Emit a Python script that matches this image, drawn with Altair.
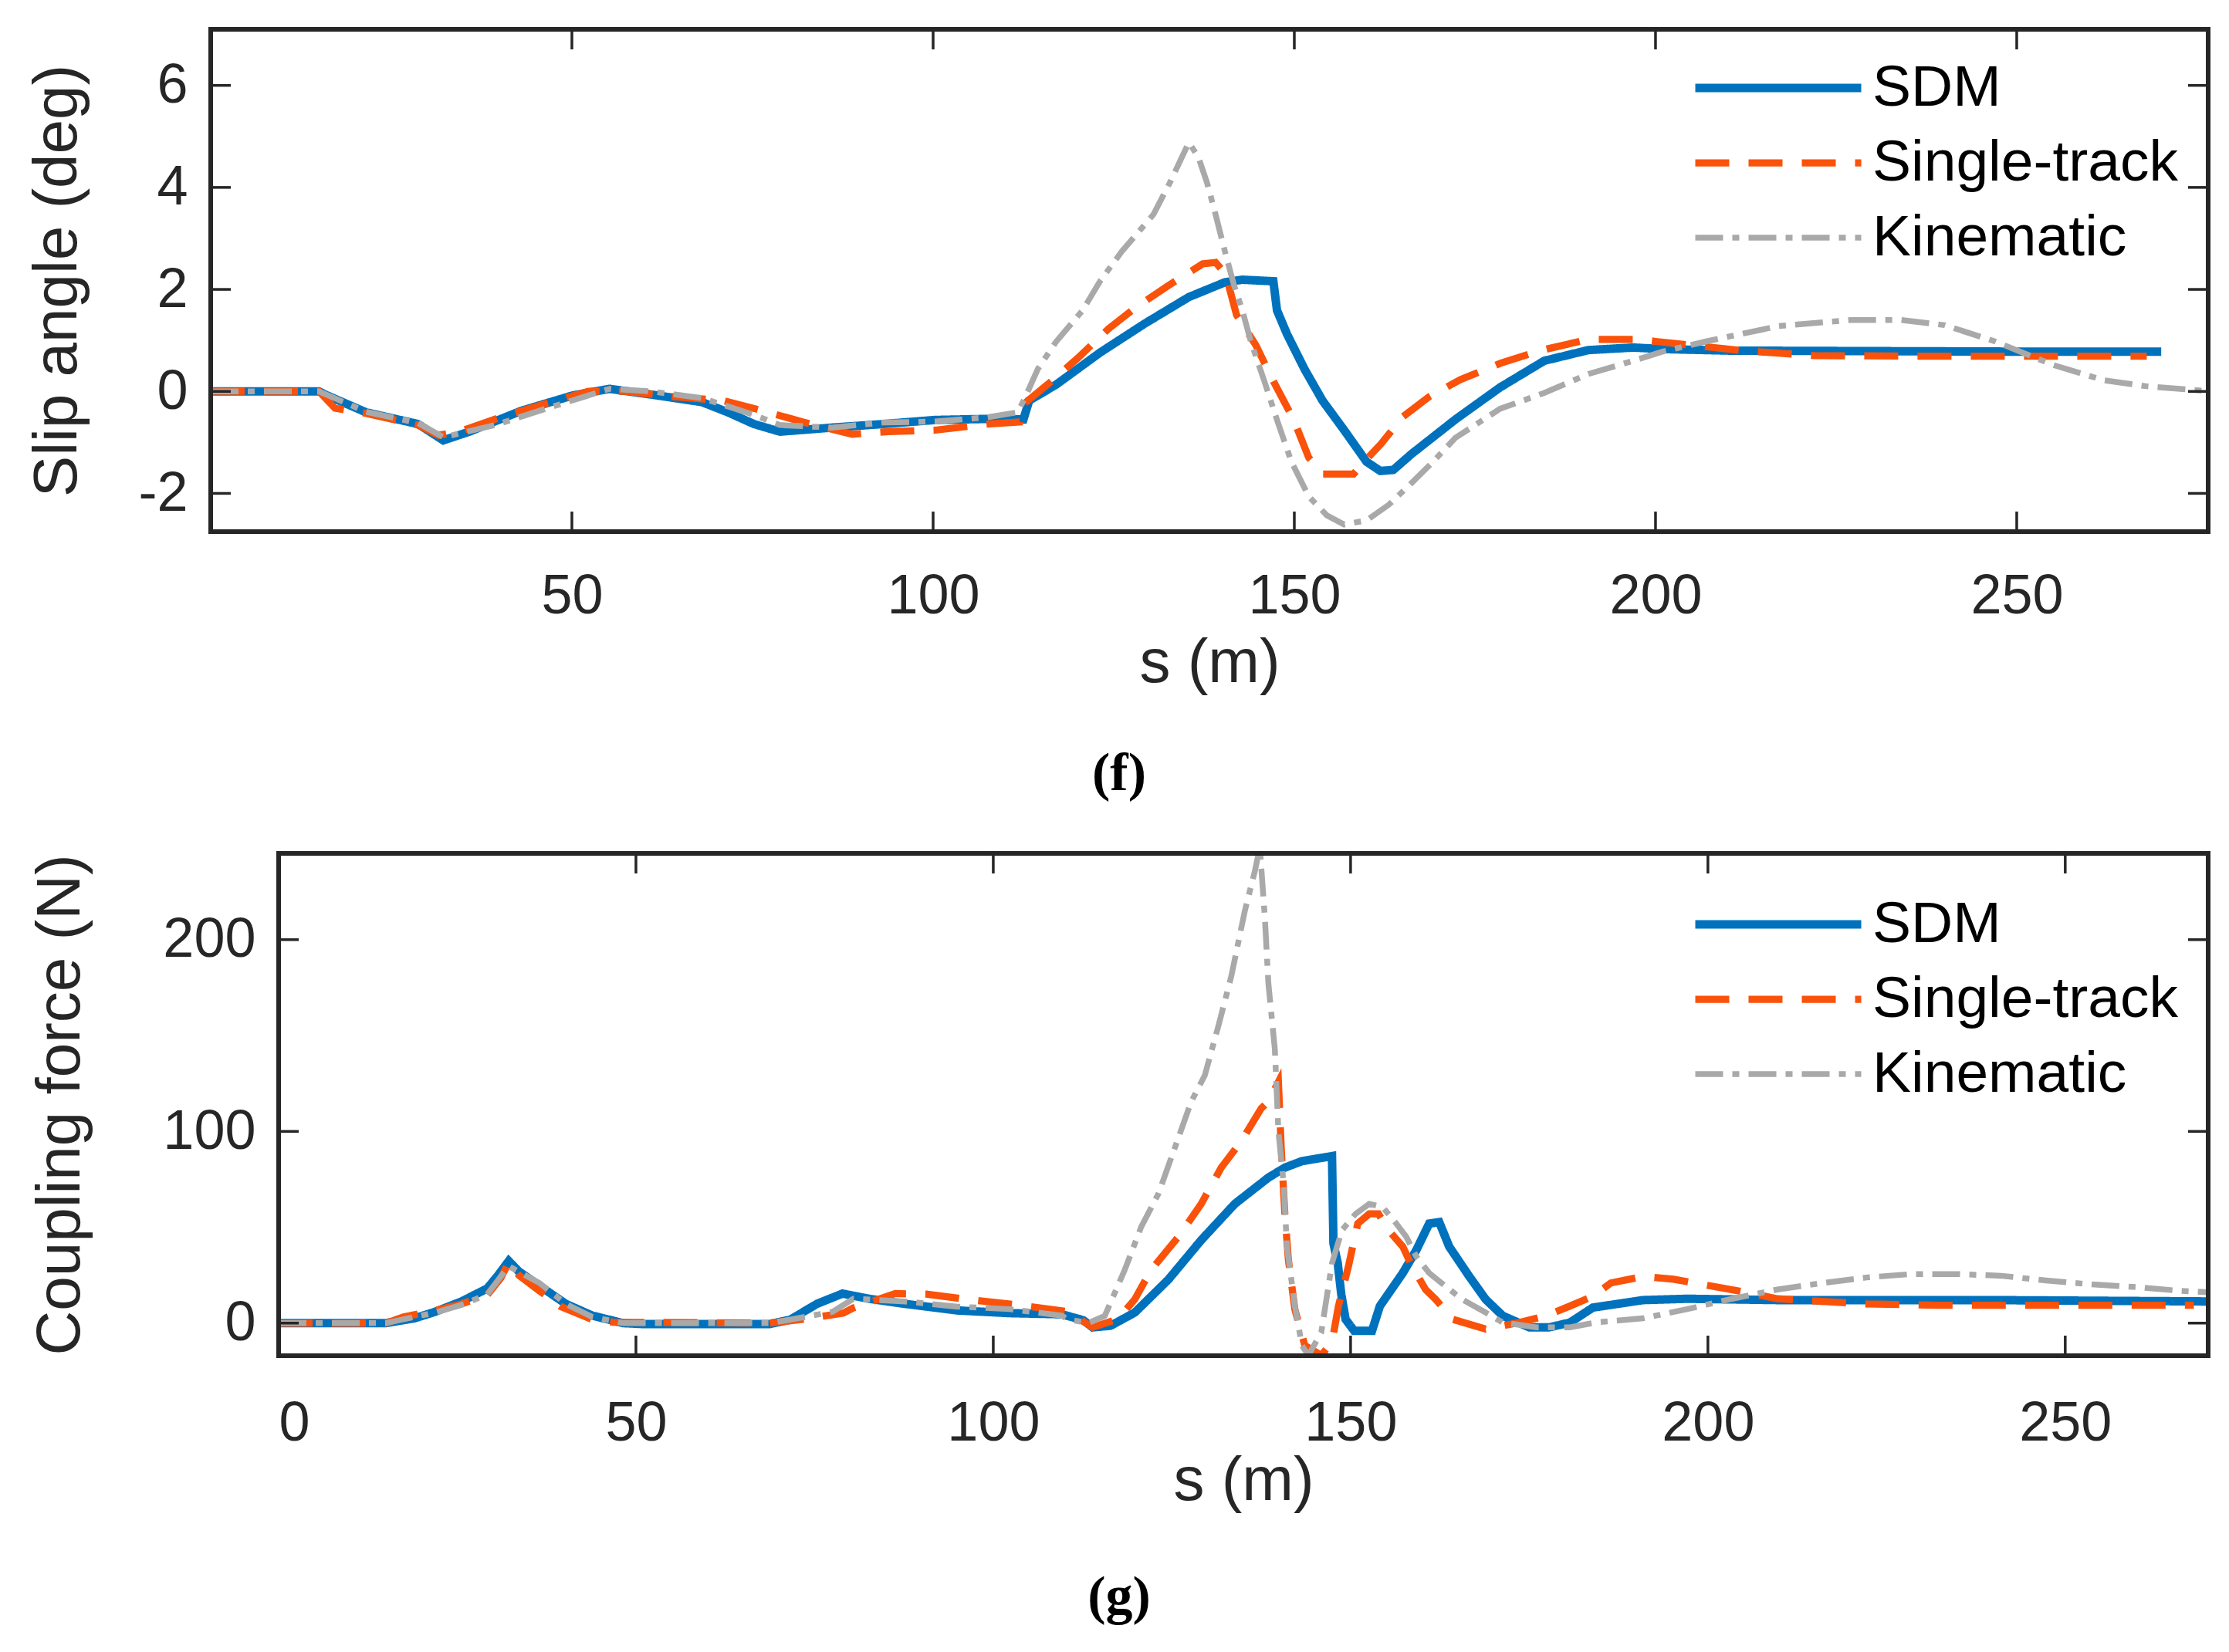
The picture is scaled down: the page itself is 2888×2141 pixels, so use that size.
import altair as alt
import pandas as pd

MODELS = ['SDM', 'Single-track', 'Kinematic']
COLORS = ['#0072BD', '#FA520A', '#A9A9A9']
DASHES = [[1, 0], [44, 25], [36, 12, 9, 12]]
WIDTHS = [11, 7.5, 7.5]
INK = '#262626'

# ---- (f) slip angle (deg) vs s (m) ----
f_sdm_s = [0, 15, 15.8, 21.5, 28.7, 32.2, 35.8, 43, 50.1, 55.2, 60.9, 68, 71.6, 75.2, 78.8, 86, 93.1,
           100.3, 107.4, 112.5, 113.3, 117, 123.1, 129.3, 135.4, 140.4, 142.8, 147.1, 147.6, 149, 151.4,
           153.9, 156.9, 160, 161.9, 163.7, 166.2, 172.3, 178.5, 184.6, 190.7, 196.9, 201, 210, 230, 250, 270]
f_sdm_v = [0, 0, -0.06, -0.41, -0.64, -0.96, -0.79, -0.38, -0.08, 0.05, -0.06, -0.21, -0.41, -0.64, -0.79,
           -0.71, -0.64, -0.56, -0.54, -0.55, -0.18, 0.13, 0.76, 1.33, 1.85, 2.14, 2.19, 2.16, 1.59, 1.12,
           0.44, -0.18, -0.76, -1.38, -1.56, -1.54, -1.23, -0.55, 0.08, 0.6, 0.81, 0.86, 0.83, 0.8, 0.79,
           0.78, 0.78]

f_st_s = [0, 15, 17.2, 21.5, 28.7, 31.5, 34.4, 40.1, 46.6, 52.3, 57.3, 64.5, 70.9, 75.9, 81.7, 88.8, 93.8,
          100.3, 107.4, 112, 112.7, 115.8, 120, 124.3, 128, 132.4, 137.3, 139.1, 140.5, 142, 144.7, 147.1,
          149.9, 152, 153.9, 158.2, 160, 162, 165, 168.7, 173, 178.5, 184, 190.7, 197.5, 200, 212, 222,
          240, 268]
f_st_v = [0, 0, -0.33, -0.43, -0.66, -0.86, -0.79, -0.51, -0.23, 0, 0, -0.11, -0.18, -0.36, -0.59, -0.84,
          -0.79, -0.76, -0.64, -0.6, -0.23, 0.13, 0.65, 1.23, 1.64, 2.06, 2.5, 2.53, 2.3, 1.5, 0.9, 0.2,
          -0.55, -1.3, -1.62, -1.62, -1.33, -1.03, -0.5, -0.1, 0.23, 0.55, 0.8, 1.02, 1.02, 0.98, 0.8, 0.7,
          0.69, 0.69]

f_kin_s = [0, 15, 21.5, 28.7, 32.2, 39.4, 46.6, 55.2, 60.9, 68, 75.2, 78.8, 86, 93.1, 100.3, 107.4, 111.7,
           112.7, 114.5, 117, 120.7, 123.1, 126.1, 130.5, 132.8, 135.4, 136.7, 137.9, 139.1, 140.4, 141.6,
           142.8, 144, 145.9, 147.7, 149.6, 152, 154.5, 156.9, 160, 163.1, 166.2, 169.2, 172.3, 178.5,
           184.6, 190.7, 196.9, 201, 207, 217, 227, 234, 240, 247, 255, 262, 268, 276]
f_kin_v = [0, 0, -0.4, -0.62, -0.9, -0.66, -0.33, 0.05, 0, -0.13, -0.46, -0.66, -0.71, -0.61, -0.59, -0.51,
           -0.41, -0.13, 0.44, 0.97, 1.59, 2.16, 2.74, 3.47, 4.1, 4.88, 4.6, 4.1, 3.47, 2.74, 2.11, 1.59,
           0.97, 0.18, -0.6, -1.38, -2.06, -2.43, -2.61, -2.53, -2.22, -1.8, -1.38, -0.91, -0.34, -0.03,
           0.34, 0.6, 0.78, 0.98, 1.28, 1.4, 1.4, 1.3, 0.98, 0.52, 0.22, 0.1, 0.01]

f_xticks = [50, 100, 150, 200, 250]
f_yticks = [-2, 0, 2, 4, 6]

# ---- (g) coupling force (N) vs s (m) ----
g_sdm_s = [0, 15, 19, 21.9, 25.6, 29.2, 30.7, 32.2, 33.6, 36.5, 40.2, 43.9, 48.2, 51, 68.7, 71.6, 75.3,
           78.9, 82.6, 87.7, 95, 102.3, 109.6, 112.6, 113.9, 116.4, 119.8, 124.5, 129.1, 133.8, 138.5,
           140.8, 143.2, 147.4, 147.6, 148.2, 148.7, 149.3, 150.5, 153, 154.1, 157.3, 159.2, 161, 162.4,
           163.8, 166.6, 168.9, 171.3, 175, 177.8, 180.7, 183.9, 190.9, 197.1, 210, 240, 270]
g_sdm_v = [0, 0, 2.5, 5.9, 11.3, 18.1, 24.9, 32.4, 27, 19.5, 10, 3.9, 0, -0.5, -0.5, 1.8, 10, 15.4, 12.7,
           10, 6.6, 5.2, 4.6, 1.5, -2.2, -1.4, 5.5, 22.7, 43.3, 62.2, 75.9, 81.1, 84.5, 87.1, 41.6, 31.3,
           14.9, 2, -4, -4, 8.9, 26.1, 38.1, 51.9, 52.7, 39.9, 24.4, 12.4, 3.8, -2.2, -2.2, 0.3, 8.1, 12,
           12.7, 12, 12, 11.3]

g_st_s = [0, 15, 17.5, 21.9, 25.6, 29.2, 31.1, 32.2, 33.6, 36.5, 39.5, 43.9, 46.8, 68.7, 73.1, 79, 80.4,
          86.3, 90.6, 97.2, 103.8, 110.4, 113.9, 117.4, 119.8, 122.1, 125.9, 129.1, 131.9, 134.7, 137.5,
          138.5, 139.9, 140.3, 140.8, 141.3, 142.2, 143.6, 145.9, 147.4, 148.3, 149.7, 151, 152.6, 153.9,
          155.3, 157.3, 158.6, 160.5, 161.9, 164.3, 168.9, 173.6, 177.3, 180.7, 183.9, 186.4, 190.9,
          195.2, 200.2, 205.3, 209.7, 216, 222.2, 232, 268]
g_st_v = [0, 0, 3.2, 6.6, 10, 14.7, 23.6, 31.7, 25, 16.8, 8.6, 1.8, 0.5, 0, 1.8, 5.2, 7.9, 15.4, 15.1, 12,
          9.3, 6, -2.2, 2, 12.4, 27.8, 45, 62.2, 81.1, 94.8, 112, 115.5, 125.8, 91, 57, 33, 7.2, -11.7,
          -16.8, -10, 8.9, 29.6, 51.9, 57, 57, 48.5, 39.9, 29.6, 17.5, 12.4, 2, -3.1, 0.3, 3.8, 8.9, 14,
          20.9, 24.3, 22.9, 19.5, 16.1, 12.7, 11.3, 10, 9.3, 9.3]

g_kin_s = [0, 15, 21.9, 25.6, 29.2, 32.2, 36.5, 40.2, 43.9, 48.2, 68.7, 71.6, 77.5, 80.4, 87.7, 95, 102.3,
           109.6, 110.4, 113.3, 115.6, 118.4, 120.7, 123.1, 125.4, 127.7, 129.6, 131.5, 133.3, 135.2,
           136.6, 137.3, 138, 138.5, 139.4, 139.9, 140.6, 141.1, 142.2, 143.2, 144.1, 145.9, 147.4, 148.8,
           150.7, 152.6, 154.5, 156.4, 157.8, 159.2, 161, 163.3, 165.6, 168.9, 171.3, 176, 180.7, 184.6,
           190.9, 197.1, 203.4, 209.7, 216, 222.2, 228.5, 234.8, 241, 247.3, 253.6, 259.9, 266.1, 270]
g_kin_v = [0, 0, 5.5, 9.5, 15, 29.7, 20.9, 10, 3.2, 0, 0, 1.8, 5.9, 12.7, 11.3, 8.6, 7.3, 3.9, 2, 0, 3.8,
           27.8, 50.2, 67.4, 91.4, 115.5, 129.2, 155, 180.8, 215, 235.7, 248, 211.7, 177, 143, 100, 74.2,
           39.9, 8.9, -11.7, -16.8, -4.8, 31.3, 48.5, 57, 62.2, 60.5, 51.9, 45, 34.7, 26.1, 19.2, 12.4,
           5.5, 0.3, -2.2, -2.2, 0.5, 2.5, 7.3, 12.7, 17.5, 20.9, 23.8, 25.6, 25.6, 24.7, 22.2, 20.2, 18.8,
           16.8, 16.1]

g_xticks = [0, 50, 100, 150, 200, 250]
g_yticks = [0, 100, 200]

W = 2588   # common plot-group width
H = 651


def series_frame(parts):
    rows = []
    for name, xs, vs in parts:
        rows.append(pd.DataFrame({'s': xs, 'v': vs, 'model': name}))
    return pd.concat(rows, ignore_index=True)


def panel(df, xdom, ydom, xticks, yticks, x0, ytitle, caption, leg_x, leg_y,
          lab_pad, tit_pad, ytit_pad, cap_off):
    xs = alt.Scale(domain=xdom, range=[x0, W], nice=False, zero=False)
    ys = alt.Scale(domain=ydom, nice=False, zero=False)
    xax = alt.Axis(values=xticks, ticks=False, domain=False, grid=False, labelPadding=lab_pad,
                   titlePadding=tit_pad, titleX=(x0 + W) / 2, format='d')
    yax = alt.Axis(values=yticks, ticks=False, domain=False, grid=False, labelPadding=30,
                   titlePadding=ytit_pad, offset=-x0,
                   labelExpr="datum.value < 0 ? '-' + abs(datum.value) : '' + datum.value")
    leg = alt.Legend(title=None, orient='none', legendX=leg_x, legendY=leg_y, symbolType='stroke',
                     symbolSize=46225, labelFontSize=75, labelFont='Liberation Sans', labelColor='black',
                     labelOffset=9, clipHeight=76, rowPadding=21, labelLimit=1000)
    lines = alt.Chart(df).mark_line(clip=True).encode(
        x=alt.X('s:Q', scale=xs, title='s (m)', axis=xax),
        y=alt.Y('v:Q', scale=ys, title=ytitle, axis=yax),
        color=alt.Color('model:N', scale=alt.Scale(domain=MODELS, range=COLORS), legend=leg),
        strokeDash=alt.StrokeDash('model:N', scale=alt.Scale(domain=MODELS, range=DASHES), legend=leg),
        strokeWidth=alt.StrokeWidth('model:N', scale=alt.Scale(domain=MODELS, range=WIDTHS), legend=leg),
    )

    def xd(val):
        return alt.XDatum(val, type='quantitative', scale=xs, axis=xax, title='s (m)')

    def yd(val):
        return alt.YDatum(val, type='quantitative', scale=ys, axis=yax, title=ytitle)

    frame = alt.Chart(df).mark_rect(filled=False, stroke=INK, strokeWidth=5).encode(
        x=xd(xdom[0]), x2=alt.X2Datum(xdom[1]), y=yd(ydom[0]), y2=alt.Y2Datum(ydom[1]))
    xt = pd.DataFrame({'t': xticks})
    yt = pd.DataFrame({'t': yticks})
    tick = dict(color=INK, strokeWidth=3.5)
    xenc = alt.X('t:Q', scale=xs, title='s (m)', axis=xax)
    yenc = alt.Y('t:Q', scale=ys, title=ytitle, axis=yax)
    xt_top = alt.Chart(xt).mark_rule(y2Offset=26, **tick).encode(
        x=xenc, y=yd(ydom[1]), y2=alt.Y2Datum(ydom[1]))
    xt_bot = alt.Chart(xt).mark_rule(y2Offset=-26, **tick).encode(
        x=xenc, y=yd(ydom[0]), y2=alt.Y2Datum(ydom[0]))
    yt_left = alt.Chart(yt).mark_rule(x2Offset=26, **tick).encode(
        y=yenc, x=xd(xdom[0]), x2=alt.X2Datum(xdom[0]))
    yt_right = alt.Chart(yt).mark_rule(x2Offset=-26, **tick).encode(
        y=yenc, x=xd(xdom[1]), x2=alt.X2Datum(xdom[1]))
    return alt.layer(lines, xt_top, xt_bot, yt_left, yt_right, frame).properties(
        width=W, height=H,
        title=alt.TitleParams(caption, orient='bottom', anchor='middle', font='Liberation Serif',
                              fontWeight='bold', fontSize=70, color='black', offset=cap_off, dx=-117),
    )


df_f = series_frame([('SDM', f_sdm_s, f_sdm_v), ('Single-track', f_st_s, f_st_v),
                     ('Kinematic', f_kin_s, f_kin_v)])
df_g = series_frame([('SDM', g_sdm_s, g_sdm_v), ('Single-track', g_st_s, g_st_v),
                     ('Kinematic', g_kin_s, g_kin_v)])

top = panel(df_f, [0, 276.5], [-2.75, 7.1], f_xticks, f_yticks, 0,
            'Slip angle (deg)', '(f)', 1918, 38, 48, 12, 63, 70)
bottom = panel(df_g, [0, 270], [-17, 245], g_xticks, g_yticks, 88,
               'Coupling force (N)', '(g)', 1918, 54, 52, 0, 91, 77)

chart = alt.concat(top, bottom, columns=1, spacing=65).resolve_scale(
    color='independent', strokeDash='independent', strokeWidth='independent'
).resolve_legend(
    color='independent', strokeDash='independent', strokeWidth='independent'
).properties(
    padding={'left': 26, 'top': 27, 'right': 5, 'bottom': 5}, background='white'
).configure_view(
    strokeWidth=0
).configure_axis(
    labelFont='Liberation Sans', labelFontSize=72, labelColor=INK,
    titleFont='Liberation Sans', titleFontSize=80, titleColor=INK, titleFontWeight='normal'
)

chart.save('out.html', embed_options={'renderer': 'svg', 'actions': False})
